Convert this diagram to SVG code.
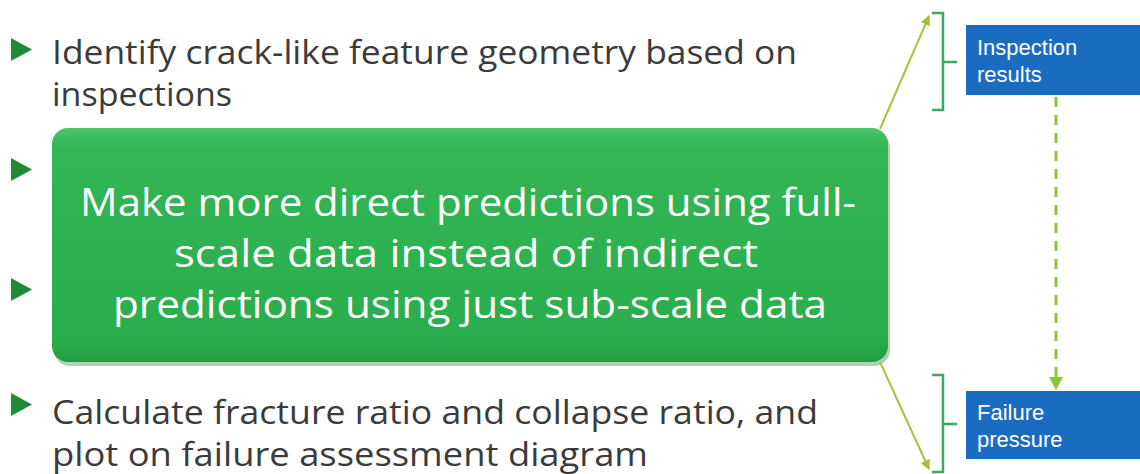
<svg xmlns="http://www.w3.org/2000/svg" width="1140" height="474" viewBox="0 0 1140 474">
<style>
.body{font-family:"Open Sans","DejaVu Sans",sans-serif;font-size:33px;fill:#3b3b3b}
.big{font-family:"Open Sans","DejaVu Sans",sans-serif;font-size:38px;fill:#ffffff;text-anchor:middle}
.lbl{font-family:"Liberation Sans",Arial,sans-serif;font-size:22px;fill:#ffffff}
.bullet{fill:#1f8c35}
.bracket{fill:none;stroke:#3aa966;stroke-width:2.5}
.conn{stroke:#a3c53f;stroke-width:2;fill:none}
.dash{stroke:#8cc63f;stroke-width:3;stroke-dasharray:10 8;fill:none}
</style>
<defs>
<linearGradient id="g" x1="0" y1="0" x2="0" y2="1">
<stop offset="0" stop-color="#4cc46a"/>
<stop offset="0.08" stop-color="#33b555"/>
<stop offset="0.9" stop-color="#2aae4d"/>
<stop offset="1" stop-color="#239c43"/>
</linearGradient>
<marker id="ah" viewBox="0 0 10 10" refX="9" refY="5" markerWidth="5" markerHeight="5" orient="auto">
<path d="M0,0 L10,5 L0,10 z" fill="#9cc23a"/>
</marker>
</defs>
<rect width="1140" height="474" fill="#ffffff"/>

<g id="bullets">
<polygon class="bullet" points="11,38 32,49.5 11,61"/>
<polygon class="bullet" points="11,158 32,169.5 11,181"/>
<polygon class="bullet" points="11,278 32,289.5 11,301"/>
<polygon class="bullet" points="11,393 32,404.5 11,416"/>
</g>

<g id="text-top">
<text class="body" x="52" y="64" textLength="745" lengthAdjust="spacingAndGlyphs">Identify crack-like feature geometry based on</text>
<text class="body" x="52" y="106" textLength="180" lengthAdjust="spacingAndGlyphs">inspections</text>
</g>

<g id="text-bottom">
<text class="body" x="52" y="424" textLength="766" lengthAdjust="spacingAndGlyphs">Calculate fracture ratio and collapse ratio, and</text>
<text class="body" x="52" y="466" textLength="596" lengthAdjust="spacingAndGlyphs">plot on failure assessment diagram</text>
</g>

<g id="green-box">
<rect x="54" y="132" width="836" height="234" rx="16" fill="#1f7f35" opacity="0.35"/>
<rect x="52" y="128" width="836" height="234" rx="16" fill="url(#g)"/>
<text class="big" x="468" y="216" textLength="776" lengthAdjust="spacingAndGlyphs">Make more direct predictions using full-</text>
<text class="big" x="466" y="267" textLength="584" lengthAdjust="spacingAndGlyphs">scale data instead of indirect</text>
<text class="big" x="470" y="318" textLength="714" lengthAdjust="spacingAndGlyphs">predictions using just sub-scale data</text>
</g>

<g id="inspection-results">
<rect x="966" y="25" width="174" height="70" fill="#1a6cc1"/>
<text class="lbl" x="977" y="55">Inspection</text>
<text class="lbl" x="977" y="82">results</text>
</g>

<g id="failure-pressure">
<rect x="966" y="391" width="174" height="68" fill="#1a6cc1"/>
<text class="lbl" x="977" y="420">Failure</text>
<text class="lbl" x="977" y="447">pressure</text>
</g>

<g id="brackets">
<path class="bracket" d="M932,13 H943 V110 H932 M943,62 H957"/>
<path class="bracket" d="M932,375 H943 V472 H932 M943,424 H957"/>
</g>

<g id="connectors">
<line class="conn" x1="880" y1="129" x2="929" y2="16" marker-end="url(#ah)"/>
<line class="conn" x1="880" y1="362" x2="929" y2="469" marker-end="url(#ah)"/>
<line class="dash" x1="1056" y1="97" x2="1056" y2="378"/>
<polygon points="1049,377 1063,377 1056,390" fill="#8cc63f"/>
</g>
</svg>
